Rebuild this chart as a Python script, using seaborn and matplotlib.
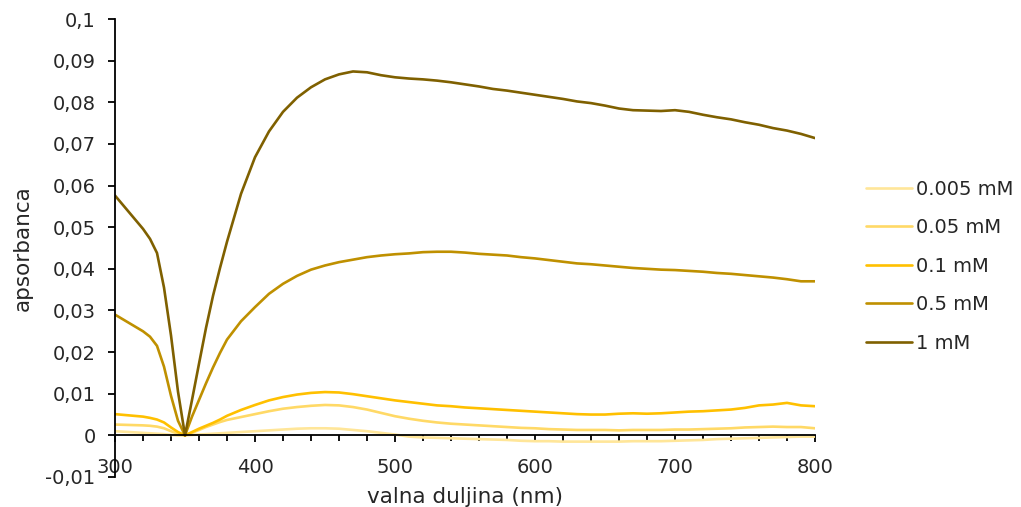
import numpy as np
import pandas as pd
import matplotlib
matplotlib.use("Agg")
import matplotlib.pyplot as plt
from matplotlib.ticker import FuncFormatter, MultipleLocator
import seaborn as sns

# ---------------- data ----------------
wavelength = [300, 310, 320, 325, 330, 335, 340, 345, 350, 355, 360, 365, 370, 375, 380,
              390, 400, 410, 420, 430, 440, 450, 460, 470, 480, 490, 500, 510, 520, 530,
              540, 550, 560, 570, 580, 590, 600, 610, 620, 630, 640, 650, 660, 670, 680,
              690, 700, 710, 720, 730, 740, 750, 760, 770, 780, 790, 800]

a_0005 = [0.0010, 0.0008, 0.0006, 0.0005, 0.0004, 0.0003, 0.0001, 0.0000, 0.0000, 0.0001,
          0.0002, 0.0003, 0.0004, 0.0005, 0.0006, 0.0008, 0.0010, 0.0012, 0.0014, 0.0016,
          0.0017, 0.0017, 0.0016, 0.0013, 0.0010, 0.0006, 0.0002, -0.0003, -0.0005, -0.0006,
          -0.0007, -0.0008, -0.0009, -0.0010, -0.0011, -0.0013, -0.0014, -0.0014, -0.0015, -0.0015,
          -0.0015, -0.0015, -0.0015, -0.0014, -0.0014, -0.0014, -0.0013, -0.0012, -0.0011, -0.0009,
          -0.0008, -0.0007, -0.0006, -0.0005, -0.0004, -0.0003, -0.0003]

a_005 = [0.0026, 0.0025, 0.0024, 0.0023, 0.0021, 0.0017, 0.0010, 0.0004, 0.0000, 0.0006,
         0.0013, 0.0020, 0.0026, 0.0032, 0.0037, 0.0044, 0.0051, 0.0058, 0.0064, 0.0068,
         0.0071, 0.0073, 0.0072, 0.0068, 0.0062, 0.0054, 0.0046, 0.0040, 0.0035, 0.0031,
         0.0028, 0.0026, 0.0024, 0.0022, 0.0020, 0.0018, 0.0017, 0.0015, 0.0014, 0.0013,
         0.0013, 0.0013, 0.0012, 0.0013, 0.0013, 0.0013, 0.0014, 0.0014, 0.0015, 0.0016,
         0.0017, 0.0019, 0.0020, 0.0021, 0.0020, 0.0020, 0.0017]

a_01 = [0.0051, 0.0048, 0.0045, 0.0042, 0.0038, 0.0031, 0.0019, 0.0008, 0.0000, 0.0008,
        0.0016, 0.0023, 0.0030, 0.0038, 0.0047, 0.0061, 0.0073, 0.0084, 0.0092, 0.0098,
        0.0102, 0.0104, 0.0103, 0.0099, 0.0094, 0.0089, 0.0084, 0.0080, 0.0076, 0.0072,
        0.0070, 0.0067, 0.0065, 0.0063, 0.0061, 0.0059, 0.0057, 0.0055, 0.0053, 0.0051,
        0.0050, 0.0050, 0.0052, 0.0053, 0.0052, 0.0053, 0.0055, 0.0057, 0.0058, 0.0060,
        0.0062, 0.0066, 0.0072, 0.0074, 0.0078, 0.0072, 0.0070]

a_05 = [0.0290, 0.0270, 0.0250, 0.0237, 0.0215, 0.0165, 0.0095, 0.0035, 0.0000, 0.0045,
        0.0085, 0.0125, 0.0163, 0.0198, 0.0230, 0.0274, 0.0308, 0.0340, 0.0364, 0.0383,
        0.0398, 0.0408, 0.0416, 0.0422, 0.0428, 0.0432, 0.0435, 0.0437, 0.0440, 0.0441,
        0.0441, 0.0439, 0.0436, 0.0434, 0.0432, 0.0428, 0.0425, 0.0421, 0.0417, 0.0413,
        0.0411, 0.0408, 0.0405, 0.0402, 0.0400, 0.0398, 0.0397, 0.0395, 0.0393, 0.0390,
        0.0388, 0.0385, 0.0382, 0.0379, 0.0375, 0.0370, 0.0370]

a_1 = [0.0576, 0.0536, 0.0496, 0.0472, 0.0438, 0.0355, 0.0240, 0.0105, 0.0000, 0.0085,
       0.0172, 0.0258, 0.0335, 0.0402, 0.0465, 0.0580, 0.0668, 0.0730, 0.0777, 0.0811,
       0.0836, 0.0855, 0.0867, 0.0874, 0.0872, 0.0865, 0.0860, 0.0857, 0.0855, 0.0852,
       0.0848, 0.0843, 0.0838, 0.0832, 0.0828, 0.0823, 0.0818, 0.0813, 0.0808, 0.0802,
       0.0798, 0.0792, 0.0785, 0.0781, 0.0780, 0.0779, 0.0781, 0.0777, 0.0770, 0.0764,
       0.0759, 0.0752, 0.0746, 0.0738, 0.0732, 0.0724, 0.0714]

series_labels = ["0.005 mM", "0.05 mM", "0.1 mM", "0.5 mM", "1 mM"]
series_colors = ["#FFE699", "#FFD966", "#FFC000", "#BF9000", "#7F6000"]
x_ticks = [300, 400, 500, 600, 700, 800]
y_ticks = [-0.01, 0.0, 0.01, 0.02, 0.03, 0.04, 0.05, 0.06, 0.07, 0.08, 0.09, 0.1]

# ---------------- long form ----------------
all_series = [a_0005, a_005, a_01, a_05, a_1]
frames = []
for lab, vals in zip(series_labels, all_series):
    frames.append(pd.DataFrame({"wl": wavelength, "abs": vals, "conc": lab}))
df = pd.concat(frames, ignore_index=True)

# ---------------- plot ----------------
sns.set_style("white")
plt.rcParams["font.family"] = ["DejaVu Sans"]
plt.rcParams["font.size"] = 14

fig = plt.figure(figsize=(10.21, 5.07), dpi=100)
ax = fig.add_axes([115 / 1021, 1 - 477 / 507, 700 / 1021, (477 - 19) / 507])

sns.lineplot(data=df, x="wl", y="abs", hue="conc", hue_order=series_labels,
             palette=dict(zip(series_labels, series_colors)), estimator=None,
             sort=True, linewidth=1.9, ax=ax)

ax.set_xlim(300, 800)
ax.set_ylim(-0.01, 0.1)
ax.set_xticks(x_ticks)
ax.xaxis.set_minor_locator(MultipleLocator(20))
ax.set_yticks(y_ticks)


def comma_fmt(v, pos):
    s = f"{v:.2f}".rstrip("0").rstrip(".")
    if s in ("-0", ""):
        s = "0"
    return s.replace(".", ",")


ax.yaxis.set_major_formatter(FuncFormatter(comma_fmt))

for side in ("top", "right"):
    ax.spines[side].set_visible(False)
ax.spines["bottom"].set_position(("data", 0))
for side in ("left", "bottom"):
    ax.spines[side].set_color("black")
    ax.spines[side].set_linewidth(1.3)

ax.tick_params(axis="y", which="major", direction="out", length=5, width=1.3,
               color="black", pad=9, labelsize=14, left=True)
ax.tick_params(axis="x", which="major", direction="out", length=5, width=1.3,
               color="black", pad=11, labelsize=14, bottom=True)
ax.tick_params(axis="x", which="minor", direction="out", length=4, width=1.3,
               color="black", bottom=True)

ax.set_xlabel("valna duljina (nm)", fontsize=15.5)
ax.set_ylabel("apsorbanca", fontsize=15.5)
ax.xaxis.set_label_coords(0.5, -0.022)
ax.yaxis.set_label_coords(-0.118, 0.5)

ax.legend(title=None, frameon=False, loc="upper left",
          bbox_to_anchor=(858 / 1021, 1 - 172 / 507), bbox_transform=fig.transFigure,
          fontsize=14, handlelength=2.4, handletextpad=0.2, labelspacing=1.0,
          borderaxespad=0)

fig.savefig("out.png", dpi=100)
